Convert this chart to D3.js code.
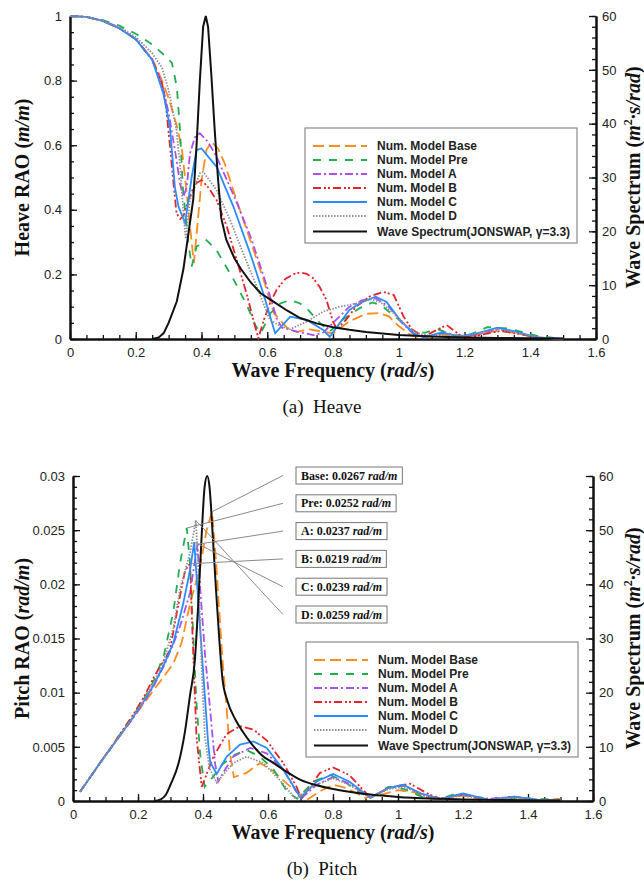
<!doctype html>
<html>
<head>
<meta charset="UTF-8">
<title>Heave and Pitch RAO</title>
<script src="https://d3js.org/d3.v7.min.js"></script>
<style>
  body { margin: 0; background: #fff; }
  .tick text { font-family: "Liberation Sans", Arial, sans-serif; font-size: 13px; fill: #222; }
  .ttl { font-family: "Liberation Serif", "Times New Roman", serif; font-weight: bold; font-size: 20px; fill: #111; }
  .cap { font-family: "Liberation Serif", "Times New Roman", serif; font-size: 19px; fill: #111; white-space: pre; }
  .leg { font-family: "Liberation Sans", Arial, sans-serif; font-weight: bold; font-size: 12px; fill: #222; }
  .ann { font-family: "Liberation Serif", "Times New Roman", serif; font-weight: bold; font-size: 12px; fill: #111; }
</style>
</head>
<body>
<svg id="chart" width="644" height="886"></svg>
<script>
// ---- data ----
var freqTicks = [0, 0.2, 0.4, 0.6, 0.8, 1, 1.2, 1.4, 1.6];
var heaveTicks = [0, 0.2, 0.4, 0.6, 0.8, 1];
var pitchTicks = [0, 0.005, 0.01, 0.015, 0.02, 0.025, 0.03];
var spectrumTicks = [0, 10, 20, 30, 40, 50, 60];

var legendNames = ["Num. Model Base", "Num. Model Pre", "Num. Model A", "Num. Model B",
                   "Num. Model C", "Num. Model D", "Wave Spectrum(JONSWAP, \u03b3=3.3)"];

// JONSWAP spectrum [freq, m^2.s/rad]
var spectrum = [[0.25,0],[0.27,0.3],[0.285,1.1],[0.30,3],[0.325,7],[0.345,13],[0.36,19.5],
  [0.375,26],[0.385,36],[0.395,48],[0.405,58],[0.413,60],[0.42,58],[0.43,49],[0.44,39],[0.45,30],
  [0.46,22.5],[0.475,18.5],[0.50,15],[0.52,13],[0.55,10.5],[0.58,8.5],[0.62,6.9],[0.66,5.3],
  [0.70,3.9],[0.75,2.9],[0.80,2.2],[0.85,1.7],[0.90,1.3],[0.95,1.0],[1.0,0.75],[1.1,0.45],
  [1.2,0.3],[1.3,0.2],[1.4,0.12],[1.5,0.08]];

// heave RAO [freq, m/m]
var heaveBase = [[0,1],[0.05,0.997],[0.1,0.985],[0.15,0.962],[0.2,0.928],[0.25,0.868],[0.28,0.8],
  [0.30,0.745],[0.325,0.66],[0.34,0.59],[0.35,0.5],[0.36,0.4],[0.37,0.3],[0.377,0.235],[0.39,0.38],
  [0.40,0.49],[0.415,0.585],[0.43,0.61],[0.45,0.59],[0.47,0.545],[0.50,0.45],[0.55,0.3],[0.59,0.18],
  [0.62,0.08],[0.66,0.035],[0.69,0.022],[0.73,0.03],[0.77,0.022],[0.80,0.018],[0.85,0.055],
  [0.90,0.078],[0.94,0.08],[0.97,0.07],[1.0,0.04],[1.04,0.01],[1.08,0.005],[1.13,0.015],
  [1.17,0.005],[1.22,0.01],[1.3,0.025],[1.36,0.018],[1.42,0.005],[1.5,0]];
var heavePre = [[0,1],[0.05,0.997],[0.1,0.987],[0.15,0.97],[0.2,0.945],[0.25,0.912],[0.29,0.876],
  [0.31,0.855],[0.325,0.78],[0.335,0.64],[0.343,0.47],[0.36,0.3],[0.37,0.224],[0.385,0.286],
  [0.415,0.306],[0.445,0.276],[0.5,0.18],[0.54,0.1],[0.565,0.04],[0.58,0.018],[0.61,0.08],
  [0.64,0.11],[0.67,0.121],[0.70,0.11],[0.72,0.095],[0.76,0.05],[0.79,0.023],[0.83,0.06],[0.88,0.095],
  [0.92,0.113],[0.945,0.105],[1.0,0.06],[1.045,0.018],[1.08,0.02],[1.12,0.03],[1.17,0.01],
  [1.22,0.015],[1.27,0.037],[1.33,0.033],[1.42,0.01],[1.5,0]];
var heaveA = [[0,1],[0.05,0.997],[0.1,0.985],[0.15,0.962],[0.2,0.928],[0.25,0.865],[0.28,0.79],
  [0.30,0.7],[0.32,0.58],[0.335,0.48],[0.345,0.44],[0.355,0.47],[0.365,0.575],[0.38,0.625],
  [0.395,0.637],[0.42,0.61],[0.446,0.564],[0.50,0.44],[0.55,0.315],[0.6,0.16],[0.63,0.06],
  [0.645,0.035],[0.69,0.023],[0.74,0.012],[0.77,0.02],[0.81,0.06],[0.85,0.1],[0.89,0.12],
  [0.93,0.126],[0.97,0.1],[1.01,0.05],[1.05,0.01],[1.09,0.008],[1.14,0.02],[1.18,0.01],
  [1.23,0.012],[1.3,0.03],[1.36,0.02],[1.42,0.005],[1.5,0]];
var heaveB = [[0,1],[0.05,0.997],[0.1,0.985],[0.15,0.962],[0.2,0.928],[0.25,0.865],[0.28,0.79],
  [0.29,0.74],[0.304,0.6],[0.314,0.49],[0.324,0.39],[0.335,0.372],[0.345,0.38],[0.36,0.43],
  [0.38,0.48],[0.40,0.492],[0.42,0.47],[0.446,0.43],[0.477,0.348],[0.507,0.245],[0.537,0.141],
  [0.56,0.05],[0.573,0.003],[0.59,0.06],[0.61,0.115],[0.63,0.155],[0.655,0.186],[0.68,0.201],
  [0.70,0.206],[0.72,0.202],[0.74,0.188],[0.76,0.16],[0.78,0.121],[0.80,0.054],[0.812,0.03],
  [0.84,0.06],[0.87,0.1],[0.91,0.131],[0.953,0.146],[0.985,0.136],[1.015,0.069],[1.04,0.03],
  [1.075,0.007],[1.11,0.025],[1.146,0.043],[1.186,0.012],[1.22,0.005],[1.26,0.015],[1.31,0.025],
  [1.37,0.015],[1.43,0.003],[1.5,0]];
var heaveC = [[0,1],[0.05,0.997],[0.1,0.985],[0.15,0.962],[0.2,0.928],[0.25,0.865],[0.284,0.76],
  [0.304,0.657],[0.319,0.47],[0.33,0.41],[0.35,0.358],[0.37,0.5],[0.385,0.585],[0.40,0.59],
  [0.446,0.533],[0.497,0.41],[0.548,0.265],[0.588,0.141],[0.624,0.018],[0.67,0.069],[0.72,0.059],
  [0.77,0.028],[0.79,0.007],[0.85,0.09],[0.89,0.115],[0.93,0.131],[0.963,0.115],[1.004,0.059],
  [1.044,0.018],[1.075,0.005],[1.13,0.02],[1.18,0.008],[1.23,0.015],[1.3,0.035],[1.36,0.022],
  [1.42,0.005],[1.5,0]];
var heaveD = [[0,1],[0.05,0.997],[0.1,0.986],[0.15,0.966],[0.2,0.935],[0.25,0.885],[0.28,0.84],
  [0.30,0.77],[0.324,0.647],[0.335,0.533],[0.345,0.389],[0.352,0.31],[0.365,0.43],[0.395,0.513],
  [0.405,0.518],[0.446,0.461],[0.487,0.368],[0.527,0.265],[0.568,0.162],[0.608,0.059],[0.64,0.04],
  [0.669,0.03],[0.72,0.054],[0.771,0.085],[0.821,0.1],[0.872,0.11],[0.913,0.123],[0.943,0.115],
  [0.984,0.08],[1.024,0.04],[1.065,0.015],[1.1,0.01],[1.15,0.015],[1.2,0.01],[1.25,0.02],
  [1.3,0.03],[1.36,0.02],[1.42,0.005],[1.5,0]];

// pitch RAO [freq, rad/m]
var pitchBase = [[0.022,0.00086],[0.083,0.0035],[0.134,0.0056],[0.186,0.0077],[0.22,0.0091],
  [0.25,0.0103],[0.28,0.0115],[0.309,0.0127],[0.335,0.0147],[0.36,0.0182],[0.391,0.0216],
  [0.411,0.025],[0.428,0.0267],[0.44,0.0222],[0.45,0.0176],[0.46,0.013],[0.473,0.0084],
  [0.483,0.0044],[0.495,0.0022],[0.534,0.0026],[0.575,0.0035],[0.615,0.0028],[0.658,0.0016],
  [0.719,0.0001],[0.76,0.0009],[0.80,0.0015],[0.84,0.0012],[0.9,0.0003],[0.95,0.0006],[1.0,0.001],
  [1.05,0.0008],[1.1,0.0002],[1.15,0.0003],[1.2,0.0005],[1.27,0.0001],[1.35,0.0003],[1.42,0.0001],
  [1.5,0.0002]];
var pitchPre = [[0.022,0.00086],[0.083,0.0035],[0.134,0.0057],[0.186,0.0079],[0.22,0.0095],
  [0.25,0.0112],[0.28,0.0135],[0.309,0.0175],[0.329,0.0219],[0.35,0.0252],[0.36,0.022],
  [0.37,0.0152],[0.38,0.009],[0.391,0.0044],[0.405,0.0013],[0.43,0.0022],[0.46,0.0034],
  [0.50,0.0043],[0.534,0.0047],[0.575,0.0041],[0.617,0.0029],[0.658,0.0009],[0.69,0.0002],
  [0.74,0.0018],[0.79,0.0024],[0.83,0.0019],[0.88,0.0008],[0.915,0.0003],[0.97,0.0013],
  [1.02,0.0011],[1.08,0.0003],[1.13,0.0002],[1.18,0.0007],[1.23,0.0005],[1.28,0.0001],
  [1.35,0.0003],[1.42,0.0002],[1.5,0.0001]];
var pitchA = [[0.022,0.00086],[0.083,0.0035],[0.134,0.0056],[0.186,0.0077],[0.22,0.0092],
  [0.25,0.0107],[0.28,0.0125],[0.309,0.0145],[0.329,0.0161],[0.36,0.0192],[0.383,0.0237],
  [0.391,0.0198],[0.406,0.0136],[0.422,0.0084],[0.437,0.0035],[0.447,0.0018],[0.47,0.003],
  [0.493,0.0041],[0.545,0.0049],[0.596,0.0044],[0.647,0.0029],[0.70,0.0002],[0.75,0.0015],
  [0.80,0.0022],[0.85,0.0016],[0.915,0.0003],[0.97,0.0012],[1.02,0.0014],[1.08,0.0005],
  [1.13,0.0002],[1.2,0.0006],[1.28,0.0002],[1.36,0.0004],[1.43,0.0001],[1.5,0.0001]];
var pitchB = [[0.022,0.00086],[0.083,0.0035],[0.134,0.0057],[0.186,0.008],[0.22,0.0097],
  [0.25,0.0115],[0.298,0.0139],[0.329,0.0189],[0.345,0.0213],[0.36,0.0219],[0.368,0.0152],
  [0.38,0.0059],[0.396,0.0013],[0.432,0.0041],[0.473,0.0062],[0.514,0.0069],[0.555,0.0066],
  [0.596,0.0056],[0.647,0.0035],[0.688,0.0013],[0.703,0.0002],[0.76,0.0026],[0.80,0.0031],
  [0.85,0.0024],[0.915,0.0003],[0.97,0.0012],[1.037,0.0016],[1.09,0.0007],[1.13,0.0002],
  [1.2,0.0006],[1.28,0.0001],[1.35,0.0004],[1.43,0.0001],[1.5,0.0001]];
var pitchC = [[0.022,0.00086],[0.083,0.0035],[0.134,0.0056],[0.186,0.0078],[0.22,0.0093],
  [0.25,0.0108],[0.28,0.0126],[0.309,0.0146],[0.339,0.0182],[0.36,0.0213],[0.373,0.0239],
  [0.386,0.0182],[0.40,0.0121],[0.416,0.0053],[0.422,0.0036],[0.442,0.0025],[0.473,0.0041],
  [0.514,0.0052],[0.555,0.0055],[0.596,0.0049],[0.647,0.0029],[0.70,0.0003],[0.75,0.0018],
  [0.80,0.0025],[0.85,0.0018],[0.915,0.0003],[0.97,0.0012],[1.016,0.0015],[1.07,0.0007],
  [1.13,0.0002],[1.2,0.0007],[1.28,0.0001],[1.36,0.0004],[1.43,0.0001],[1.5,0.0001]];
var pitchD = [[0.022,0.00086],[0.083,0.0035],[0.134,0.0056],[0.186,0.0078],[0.22,0.0094],
  [0.25,0.011],[0.28,0.013],[0.309,0.016],[0.329,0.0195],[0.36,0.0229],[0.378,0.0259],
  [0.386,0.0213],[0.396,0.0121],[0.406,0.0059],[0.42,0.003],[0.442,0.0017],[0.493,0.0035],
  [0.534,0.0041],[0.586,0.0035],[0.637,0.0019],[0.685,0.0002],[0.74,0.0014],[0.80,0.0021],
  [0.85,0.0015],[0.915,0.0003],[0.97,0.0011],[1.02,0.0013],[1.08,0.0005],[1.13,0.0002],
  [1.2,0.0005],[1.28,0.0001],[1.36,0.0003],[1.43,0.0001],[1.5,0.0001]];

// peak annotations of the pitch panel
var peakLabels = ["Base", "Pre", "A", "B", "C", "D"];
var peakValues = ["0.0267", "0.0252", "0.0237", "0.0219", "0.0239", "0.0259"];

// ---- styles ----
var lineColors = ["#ff8c1f", "#1fae4d", "#a94ff5", "#e52228", "#2a8cff", "#909090", "#111"];
var lineDashes = ["11,5", "8,8", "8,3,2,3", "8,3,2,2,2,3", null, "1.5,1.5", null];

var svg = d3.select("#chart");

function drawPanel(o) {
  var x = d3.scaleLinear().domain([0, 1.6]).range([o.left, o.right]);
  var y = d3.scaleLinear().domain([0, o.yTicks[o.yTicks.length - 1]]).range([o.bottom, o.top]);
  var y2 = d3.scaleLinear().domain([0, 60]).range([o.bottom, o.top]);
  var g = svg.append("g");

  // minor ticks
  g.append("g").attr("transform", "translate(0," + o.bottom + ")")
    .call(d3.axisBottom(x).tickValues(d3.range(0, 1.6001, 0.05)).tickSize(-4).tickSizeOuter(0).tickFormat(""));
  g.append("g").attr("transform", "translate(" + o.left + ",0)")
    .call(d3.axisLeft(y).tickValues(d3.range(0, o.yTicks[o.yTicks.length - 1] * 1.0001, o.yMinor)).tickSize(-4).tickSizeOuter(0).tickFormat(""));
  g.append("g").attr("transform", "translate(" + o.right + ",0)")
    .call(d3.axisRight(y2).tickValues(d3.range(0, 60.001, 2)).tickSize(-4).tickSizeOuter(0).tickFormat(""));

  // major axes
  g.append("g").attr("transform", "translate(0," + o.bottom + ")")
    .call(d3.axisBottom(x).tickValues(freqTicks).tickSize(-7).tickSizeOuter(0).tickPadding(9).tickFormat(String));
  g.append("g").attr("transform", "translate(" + o.left + ",0)")
    .call(d3.axisLeft(y).tickValues(o.yTicks).tickSize(-7).tickSizeOuter(0).tickPadding(8).tickFormat(String));
  g.append("g").attr("transform", "translate(" + o.right + ",0)")
    .call(d3.axisRight(y2).tickValues(spectrumTicks).tickSize(-7).tickSizeOuter(0).tickPadding(6).tickFormat(String));

  g.selectAll(".domain").attr("stroke", "#111").attr("stroke-width", 2);
  g.selectAll(".tick line").attr("stroke", "#111").attr("stroke-width", 1.3);

  // curves
  var line = d3.line().x(function(d){ return x(d[0]); }).y(function(d){ return y(d[1]); });
  o.series.forEach(function(s, i) {
    g.append("path").attr("d", line(s)).attr("fill", "none")
      .attr("stroke", lineColors[i]).attr("stroke-width", 1.8)
      .attr("stroke-dasharray", lineDashes[i]);
  });
  var sline = d3.line().x(function(d){ return x(d[0]); }).y(function(d){ return y2(d[1]); })
    .curve(o.smooth ? d3.curveMonotoneX : d3.curveLinear);
  g.append("path").attr("d", sline(spectrum)).attr("fill", "none")
    .attr("stroke", lineColors[6]).attr("stroke-width", 2);

  // axis titles
  var mid = (o.top + o.bottom) / 2;
  var yl = g.append("text").attr("class", "ttl").attr("text-anchor", "middle")
    .attr("transform", "translate(29," + mid + ") rotate(-90)");
  yl.append("tspan").text(o.yName + " (");
  yl.append("tspan").attr("font-style", "italic").text(o.yUnit);
  yl.append("tspan").text(")");

  var rl = g.append("text").attr("class", "ttl").attr("text-anchor", "middle")
    .attr("transform", "translate(640," + mid + ") rotate(-90)");
  rl.append("tspan").text("Wave Spectrum (");
  rl.append("tspan").attr("font-style", "italic").text("m");
  rl.append("tspan").attr("font-size", 12).attr("dy", -8).text("2");
  rl.append("tspan").attr("dy", 8).attr("font-style", "italic").text("\u00b7s/rad");
  rl.append("tspan").text(")");

  var xl = g.append("text").attr("class", "ttl").attr("text-anchor", "middle")
    .attr("x", (o.left + o.right) / 2).attr("y", o.bottom + 38);
  xl.append("tspan").text("Wave Frequency (");
  xl.append("tspan").attr("font-style", "italic").text("rad/s");
  xl.append("tspan").text(")");

  g.append("text").attr("class", "cap").attr("text-anchor", "middle")
    .attr("x", 322).attr("y", o.bottom + 74).text(o.caption);

  // legend
  var lg = g.append("g").attr("transform", "translate(" + o.legX + "," + o.legY + ")");
  lg.append("rect").attr("width", 272).attr("height", 115).attr("fill", "#fff")
    .attr("stroke", "#8a8a8a").attr("stroke-width", 1.2);
  legendNames.forEach(function(name, i) {
    var ry = 18 + i * 14 + (i === 6 ? 1.5 : 0);
    lg.append("line").attr("x1", 8).attr("x2", 62).attr("y1", ry).attr("y2", ry)
      .attr("stroke", lineColors[i]).attr("stroke-width", 2)
      .attr("stroke-dasharray", lineDashes[i]);
    lg.append("text").attr("class", "leg").attr("x", 72).attr("y", ry + 4).text(name);
  });

  return { x: x, y: y };
}

drawPanel({
  left: 70, right: 596, top: 16, bottom: 339,
  yTicks: heaveTicks, yMinor: 0.05,
  series: [heaveBase, heavePre, heaveA, heaveB, heaveC, heaveD],
  yName: "Heave RAO", yUnit: "m/m", caption: "(a)  Heave",
  legX: 305, legY: 128, smooth: false
});

var p = drawPanel({
  left: 73, right: 593, top: 476, bottom: 801,
  yTicks: pitchTicks, yMinor: 0.001,
  series: [pitchBase, pitchPre, pitchA, pitchB, pitchC, pitchD],
  yName: "Pitch RAO", yUnit: "rad/m", caption: "(b)  Pitch",
  legX: 306, legY: 642, smooth: true
});

// peak call-outs for the pitch panel
var pitchSeries = [pitchBase, pitchPre, pitchA, pitchB, pitchC, pitchD];
var ann = svg.append("g");
peakLabels.forEach(function(lab, i) {
  var cy = 475.5 + i * 27.8;
  var peak = pitchSeries[i].reduce(function(a, b){ return b[1] > a[1] ? b : a; });
  ann.append("line").attr("x1", 283).attr("y1", cy)
    .attr("x2", p.x(peak[0])).attr("y2", p.y(peak[1]))
    .attr("stroke", "#8a8a8a").attr("stroke-width", 1);
  var t = ann.append("text").attr("class", "ann").attr("x", 301).attr("y", cy + 4);
  t.append("tspan").text(lab + ": " + peakValues[i] + " ");
  t.append("tspan").attr("font-style", "italic").text("rad/m");
  var w = t.node().getComputedTextLength();
  ann.insert("rect", "text").attr("x", 296).attr("y", cy - 8.5)
    .attr("width", w + 10).attr("height", 17).attr("fill", "#fff")
    .attr("stroke", "#777").attr("stroke-width", 1);
});
</script>
</body>
</html>
